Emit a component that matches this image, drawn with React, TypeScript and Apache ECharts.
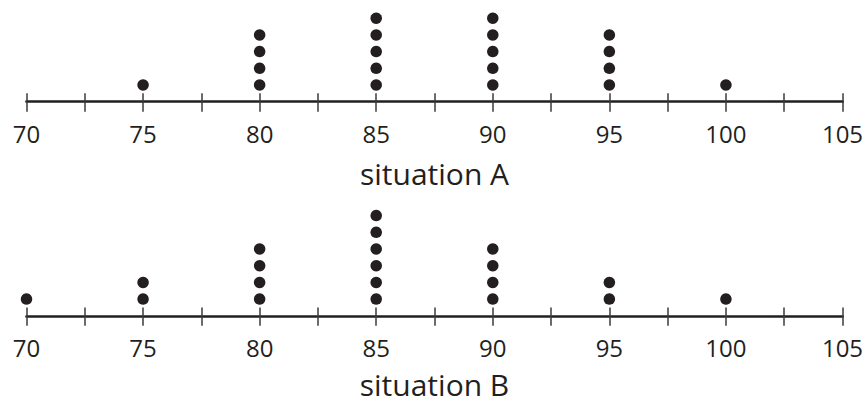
import React, { useEffect, useRef } from "react";
import * as echarts from "echarts";

const axisMin = 70;
const axisMax = 105;
const tickStep = 2.5;
const labelStep = 5;

const situationAValues = [75, 80, 85, 90, 95, 100];
const situationACounts = [1, 4, 5, 5, 4, 1];

const situationBValues = [70, 75, 80, 85, 90, 95, 100];
const situationBCounts = [1, 2, 4, 6, 4, 2, 1];

const titles = ["situation A", "situation B"];

const INK = "#231f20";
const TICK = "#3a3a3a";
const FONT = "'Open Sans', sans-serif";

function stack(values: number[], counts: number[]): number[][] {
  const pts: number[][] = [];
  values.forEach((v, i) => {
    for (let k = 1; k <= counts[i]; k++) pts.push([v, k]);
  });
  return pts;
}

export default function App() {
  const ref = useRef<HTMLDivElement>(null);
  useEffect(() => {
    if (!ref.current) return;
    const chart = echarts.init(ref.current, undefined, { renderer: "svg" });
    const unit = 16.7;
    const yMin = -0.06;
    const yMax = 6;
    const gridH = (yMax - yMin) * unit;
    const axisYs = [102.7, 316.8];
    const nameGaps = [56, 53];
    const grids = axisYs.map((y) => ({
      left: 26.5,
      width: 816,
      top: y - gridH,
      height: gridH,
    }));
    const xAxes: any[] = [];
    const yAxes: any[] = [];
    grids.forEach((_, gi) => {
      xAxes.push({
        type: "value",
        gridIndex: gi,
        min: axisMin,
        max: axisMax,
        interval: tickStep,
        axisLine: { show: true, lineStyle: { color: INK, width: 2.7 } },
        axisTick: { show: true, inside: false, length: 10, lineStyle: { color: TICK, width: 1.5 } },
        splitLine: { show: false },
        axisLabel: {
          show: true,
          margin: 19,
          fontSize: 24,
          fontFamily: FONT,
          color: INK,
          showMinLabel: true,
          showMaxLabel: true,
          formatter: (v: number) => (v % labelStep === 0 ? String(v) : ""),
        },
        name: titles[gi],
        nameLocation: "middle",
        nameGap: nameGaps[gi],
        nameTextStyle: { fontSize: 30, fontFamily: FONT, color: INK },
      });
      xAxes.push({
        type: "value",
        gridIndex: gi,
        position: "bottom",
        min: axisMin,
        max: axisMax,
        interval: tickStep,
        axisLine: { show: false },
        axisTick: { show: true, inside: true, length: 9.4, lineStyle: { color: TICK, width: 1.5 } },
        splitLine: { show: false },
        axisLabel: { show: false },
      });
      yAxes.push({
        type: "value",
        gridIndex: gi,
        min: yMin,
        max: yMax,
        show: false,
      });
    });
    const mkSeries = (gi: number, data: number[][]) => ({
      type: "scatter",
      xAxisIndex: gi * 2,
      yAxisIndex: gi,
      data,
      symbol: "circle",
      symbolSize: 11.5,
      clip: false,
      itemStyle: { color: INK, opacity: 1 },
      silent: true,
    });
    chart.setOption({
      animation: false,
      grid: grids,
      xAxis: xAxes,
      yAxis: yAxes,
      series: [
        mkSeries(0, stack(situationAValues, situationACounts)),
        mkSeries(1, stack(situationBValues, situationBCounts)),
      ],
    });
    return () => chart.dispose();
  }, []);
  return (
    <div
      ref={ref}
      style={{ position: "fixed", left: 0, top: 0, width: 867, height: 402, background: "#fff" }}
    />
  );
}
